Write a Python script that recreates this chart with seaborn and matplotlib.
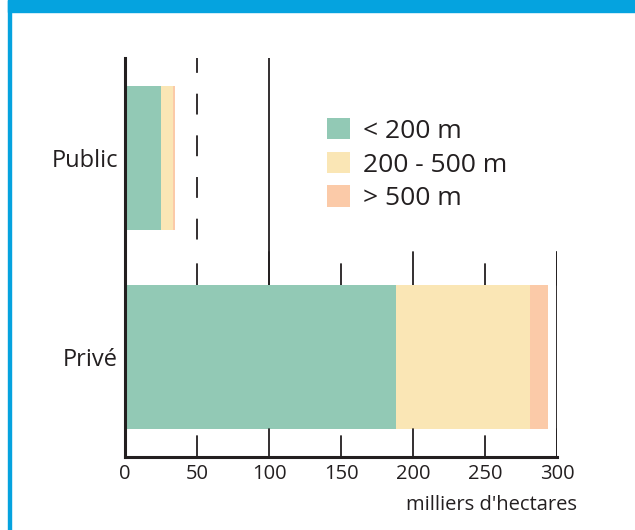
import matplotlib
matplotlib.use("Agg")
import matplotlib.pyplot as plt
import seaborn as sns
import pandas as pd
from matplotlib.patches import Patch, Rectangle

categories = ["Public", "Privé"]
moins_200 = [25, 188]
entre_200_500 = [8.5, 93]
plus_500 = [1.5, 13]
tranches = ["< 200 m", "200 - 500 m", "> 500 m"]
couleurs = ["#92c9b5", "#fae6b5", "#fbcaa8"]
ticks = [0, 50, 100, 150, 200, 250, 300]

sns.set_theme(style="white")
plt.rcParams["font.family"] = ["Open Sans", "DejaVu Sans"]
plt.rcParams["lines.scale_dashes"] = False
encre = "#231f20"

df = pd.DataFrame({"type": categories, "a": moins_200, "b": entre_200_500, "c": plus_500})
df["cum_a"] = df["a"]
df["cum_b"] = df["a"] + df["b"]
df["cum_c"] = df["cum_b"] + df["c"]

fig = plt.figure(figsize=(6.35, 5.3), dpi=100)
ax = fig.add_axes([125 / 635, 1 - 457 / 530, 432 / 635, 399 / 530])

# barres empilees : on dessine du total vers le premier segment
for col, couleur in zip(["cum_c", "cum_b", "cum_a"], couleurs[::-1]):
    sns.barplot(data=df, x=col, y="type", orient="h", color=couleur,
                width=0.72, saturation=1, linewidth=0, ax=ax, zorder=2)

ax.set_xlim(0, 300)
ax.set_ylim(1.5, -0.5)
ax.set_xticks(ticks)
ax.set_xticklabels([str(t) for t in ticks], fontsize=14.5, color=encre)
ax.tick_params(axis="x", length=0, pad=5)
ax.tick_params(axis="y", length=0, pad=5, labelsize=17, labelcolor=encre)
ax.set_xlabel("")
ax.set_ylabel("")

for s in ["top", "right"]:
    ax.spines[s].set_visible(False)
ax.spines["left"].set_color(encre)
ax.spines["bottom"].set_color(encre)
ax.spines["left"].set_linewidth(2.2)
ax.spines["bottom"].set_linewidth(2.2)

# reperes verticaux autour de la barre "Privé"
haut_barre = 1 - 0.36
bas_barre = 1 + 0.36
for t in ticks[1:]:
    long = t % 100 == 0
    y0 = 0.47 if long else 0.535
    y1 = bas_barre if long else 1.395
    ax.plot([t, t], [y0, haut_barre], color=encre, lw=1.3, zorder=1)
    ax.plot([t, t], [y1, 1.5], color=encre, lw=1.3, zorder=3)
ax.plot([300, 300], [0.47, 1.5], color=encre, lw=1.3, zorder=1)
ax.plot([100, 100], [-0.5, haut_barre], color=encre, lw=1.3, zorder=1)
ax.plot([50, 50], [-0.5, 0.43], color=encre, lw=1.3, zorder=1,
        linestyle=(4.3, (15, 15)))

handles = [Patch(facecolor=c, edgecolor="none") for c in couleurs]
ax.legend(handles, tranches, loc="upper left", bbox_to_anchor=(202 / 432, 1 - 60 / 399),
          frameon=False, fontsize=19, handlelength=0.87, handleheight=0.87,
          handletextpad=0.5, labelspacing=0.3, borderaxespad=0, borderpad=0,
          labelcolor=encre)

fig.text(577 / 635, 1 - 505 / 530, "milliers d'hectares", ha="right", va="center",
         fontsize=14.5, color=encre)

# cadre bleu
bleu = "#05a3df"
fig.patches.append(Rectangle((8 / 635, 1 - 12 / 530), 1, 12 / 530,
                             transform=fig.transFigure, color=bleu, zorder=0))
fig.patches.append(Rectangle((8 / 635, 0), 3 / 635, 1,
                             transform=fig.transFigure, color=bleu, zorder=0))

fig.savefig("out.png", dpi=100)
